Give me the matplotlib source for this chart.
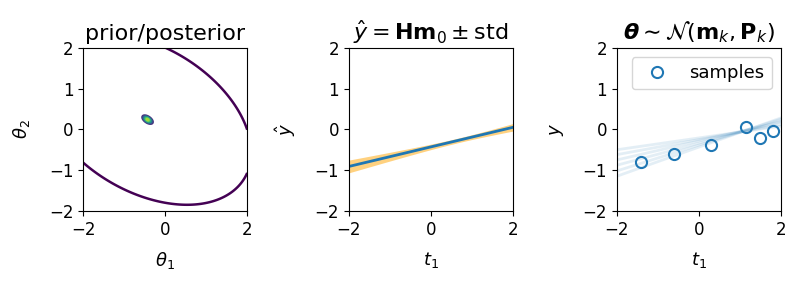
import numpy as np
import matplotlib
matplotlib.use("Agg")
import matplotlib.pyplot as plt

# prior (mean, covariance) -- one contour level shown
m0 = np.array([-0.475, 0.255])
P0 = np.array([[6.62, -2.12], [-2.12, 4.43]])
prior_level = 1.0  # Mahalanobis distance squared of drawn contour

# posterior (mean, covariance)
mk = np.array([-0.43, 0.24])
Pk = np.array([[0.0045, -0.002], [-0.002, 0.003]])

# observations
t_obs = np.array([-1.4, -0.6, 0.3, 1.15, 1.5, 1.8])
y_obs = np.array([-0.8, -0.6, -0.38, 0.07, -0.22, -0.05])

# sampled parameter vectors (intercept, slope)
sample_intercepts = np.array([-0.21, -0.25, -0.285, -0.34, -0.385, -0.435])
sample_slopes = np.array([0.145, 0.185, 0.2325, 0.27, 0.3175, 0.3575])

fig = plt.figure(figsize=(8, 2.85), dpi=100)
axs = [fig.add_axes([0.104, 0.26, 0.205, 0.572]),
       fig.add_axes([0.436, 0.26, 0.205, 0.572]),
       fig.add_axes([0.771, 0.26, 0.205, 0.572])]

# panel 1: prior / posterior
g = np.linspace(-2, 2, 400)
X, Y = np.meshgrid(g, g)
XY = np.stack([X - m0[0], Y - m0[1]], -1)
d0 = np.einsum('...i,ij,...j->...', XY, np.linalg.inv(P0), XY)
axs[0].contour(X, Y, d0, levels=[prior_level], colors=['#440154'], linewidths=1.8)
gx = np.linspace(mk[0] - 0.4, mk[0] + 0.4, 300)
gy = np.linspace(mk[1] - 0.4, mk[1] + 0.4, 300)
Xk, Yk = np.meshgrid(gx, gy)
XYk = np.stack([Xk - mk[0], Yk - mk[1]], -1)
Pinv = np.linalg.inv(Pk)
pdf = np.exp(-0.5 * np.einsum('...i,ij,...j->...', XYk, Pinv, XYk)) / (2 * np.pi * np.sqrt(np.linalg.det(Pk)))
axs[0].contour(Xk, Yk, pdf, cmap='viridis', linewidths=1.5)
axs[0].set_title('prior/posterior', fontsize=16)
axs[0].set_xlabel(r'$\theta_1$', fontsize=13, labelpad=8)
axs[0].set_ylabel(r'$\theta_2$', fontsize=13, labelpad=12)

# panel 2: predictive mean +- std
t = np.linspace(-2, 2, 100)
H = np.stack([np.ones_like(t), t], 1)
yhat = H @ mk
std = np.sqrt(np.einsum('ij,jk,ik->i', H, Pk, H))
axs[1].fill_between(t, yhat - std, yhat + std, color='orange', alpha=0.5, lw=0)
axs[1].plot(t, yhat, color='#1f77b4', lw=2)
axs[1].set_title(r'$\hat{y} = \mathbf{H}\mathbf{m}_0 \pm \mathrm{std}$', fontsize=16)
axs[1].set_xlabel(r'$t_1$', fontsize=13, labelpad=8)
axs[1].set_ylabel(r'$\hat{y}$', fontsize=13, labelpad=12)

# panel 3: samples
for a_, b_ in zip(sample_intercepts, sample_slopes):
    axs[2].plot(t, a_ + b_ * t, color='#1f77b4', alpha=0.12, lw=2)
axs[2].plot(t_obs, y_obs, 'o', mfc='none', mec='#1f77b4', ms=8, mew=1.5,
            label='samples', ls='none')
axs[2].legend(loc='upper right', fontsize=13)
axs[2].set_title(r'$\boldsymbol{\theta} \sim \mathcal{N}(\mathbf{m}_k, \mathbf{P}_k)$', fontsize=16)
axs[2].set_xlabel(r'$t_1$', fontsize=13, labelpad=8)
axs[2].set_ylabel(r'$y$', fontsize=13, labelpad=12)

for ax in axs:
    ax.set_xlim(-2, 2)
    ax.set_ylim(-2, 2)
    ax.set_xticks([-2, 0, 2])
    ax.set_yticks([-2, -1, 0, 1, 2])
    ax.tick_params(labelsize=12)

fig.savefig('out.png', dpi=100)
